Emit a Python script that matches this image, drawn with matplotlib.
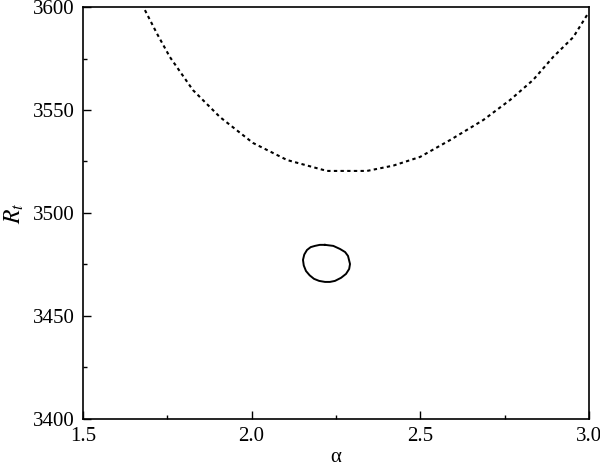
import matplotlib.pyplot as plt
from matplotlib.ticker import MultipleLocator

plt.rcParams['font.family'] = ['Liberation Serif', 'DejaVu Serif']
plt.rcParams['mathtext.fontset'] = 'stix'

# dashed boundary curve
alpha_curve = [1.684, 1.72, 1.758, 1.826, 1.906, 2.004, 2.105, 2.223, 2.342,
               2.42, 2.499, 2.588, 2.686, 2.766, 2.834, 2.893, 2.953, 2.997]
rt_curve = [3598.5, 3587.0, 3575.7, 3559.7, 3546.6, 3534.0, 3525.7, 3520.4, 3520.4,
            3523.0, 3527.2, 3535.4, 3545.1, 3554.9, 3564.6, 3575.7, 3585.4, 3597.0]

# closed contour
alpha_loop = [2.2174, 2.2420, 2.2619, 2.2770, 2.2856, 2.2915, 2.2890, 2.2797,
              2.2650, 2.2470, 2.2320, 2.2174, 2.2000, 2.1848, 2.1720, 2.1611,
              2.1545, 2.1522, 2.1560, 2.1640, 2.1750, 2.1877, 2.2020, 2.2174]
rt_loop = [3484.5, 3484.0, 3482.5, 3481.0, 3479.1, 3475.2, 3472.8, 3470.4,
           3468.5, 3467.0, 3466.5, 3466.5, 3467.0, 3468.0, 3469.7, 3471.8,
           3474.5, 3477.2, 3479.8, 3482.0, 3483.4, 3484.0, 3484.5, 3484.5]

fig = plt.figure(figsize=(6, 4.68), dpi=100)
ax = fig.add_axes([0.138, 0.105, 0.844, 0.880])

ax.plot(alpha_curve, rt_curve, color='black', lw=1.5, linestyle=(0, (1.6, 1.6)))
ax.plot(alpha_loop, rt_loop, color='black', lw=1.4)

ax.set_xlim(1.5, 3.0)
ax.set_ylim(3400, 3600)
ax.xaxis.set_major_locator(MultipleLocator(0.5))
ax.xaxis.set_minor_locator(MultipleLocator(0.25))
ax.yaxis.set_major_locator(MultipleLocator(50))
ax.yaxis.set_minor_locator(MultipleLocator(25))
ax.xaxis.set_major_formatter(lambda v, p: f'{v:.1f}')

ax.tick_params(which='both', direction='in', top=False, right=False,
               labelsize=15, width=1.0, pad=6)
ax.tick_params(which='major', length=6)
ax.tick_params(which='minor', length=3)
for s in ax.spines.values():
    s.set_linewidth(1.2)

ax.set_xlabel('α', fontsize=15, labelpad=1)
ax.set_ylabel('$R_t$', fontsize=17, labelpad=5)

fig.savefig('out.png', dpi=100)
